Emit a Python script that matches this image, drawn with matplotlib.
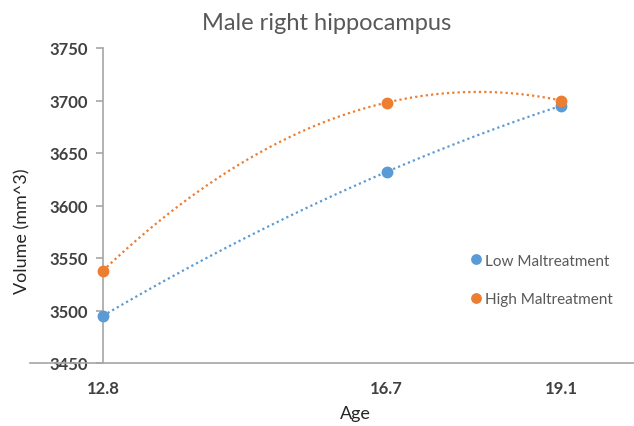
import matplotlib
matplotlib.use("Agg")
import matplotlib.pyplot as plt
import numpy as np

plt.rcParams['font.family'] = ['Lato', 'DejaVu Sans']

# data
age = [12.8, 16.7, 19.1]
low_vol = [3495, 3632, 3695]
high_vol = [3538, 3698, 3700]
series_names = ['Low Maltreatment', 'High Maltreatment']
series_colors = ['#5B9BD5', '#ED7D31']
yticks = [3450, 3500, 3550, 3600, 3650, 3700, 3750]

fig = plt.figure(figsize=(6.34, 4.27), dpi=100)
ax = fig.add_axes([30/634, 1 - 364/427, 604/634, 315/427])

xs = np.linspace(age[0], age[-1], 200)
for vals, name, col in zip([low_vol, high_vol], series_names, series_colors):
    # excel style 2nd order polynomial trendline
    p = np.polyfit(age, vals, 2)
    ax.plot(xs, np.polyval(p, xs), color=col, lw=1.6, linestyle=(0, (1, 1.4)), zorder=2)
for vals, name, col in zip([low_vol, high_vol], series_names, series_colors):
    ax.plot(age, vals, linestyle='none', marker='o', ms=7.5, color=col, label=name, zorder=3)

ax.set_xlim(11.796, 20.104)
ax.set_ylim(3450, 3750)
ax.set_yticks(yticks)
ax.set_xticks(age)
ax.set_xticklabels([str(a) for a in age])

for s in ['top', 'right']:
    ax.spines[s].set_visible(False)
ax.spines['left'].set_position(('data', 12.8))
ax.spines['left'].set_color('#A6A6A6')
ax.spines['bottom'].set_color('#A6A6A6')
ax.spines['left'].set_linewidth(1.2)
ax.spines['bottom'].set_linewidth(1.2)
ax.tick_params(axis='y', length=5, width=1.2, color='#A6A6A6', pad=6,
               labelsize=12, labelcolor='#404040')
ax.tick_params(axis='x', length=0, pad=12, labelsize=12, labelcolor='#404040')
for lab in ax.get_xticklabels():
    lab.set_fontweight('bold')
for lab in ax.get_yticklabels():
    lab.set_fontweight('bold')

fig.text(327/634, 1 - 23/427, 'Male right hippocampus', ha='center', va='center',
         fontsize=17, color='#595959')
fig.text(355/634, 1 - 414/427, 'Age', ha='center', va='center', fontsize=13,
         color='#262626')
fig.text(22/634, 1 - 231/427, 'Volume (mm^3)', ha='center', va='center',
         rotation=90, fontsize=13, color='#262626')

ax.legend(loc='center left', bbox_to_anchor=(458/634, 1 - 281/427),
          bbox_transform=fig.transFigure, frameon=False, fontsize=11,
          handlelength=0.6, handletextpad=0.3, labelspacing=1.6,
          labelcolor='#595959', markerscale=0.9)

fig.savefig('out.png', dpi=100)
